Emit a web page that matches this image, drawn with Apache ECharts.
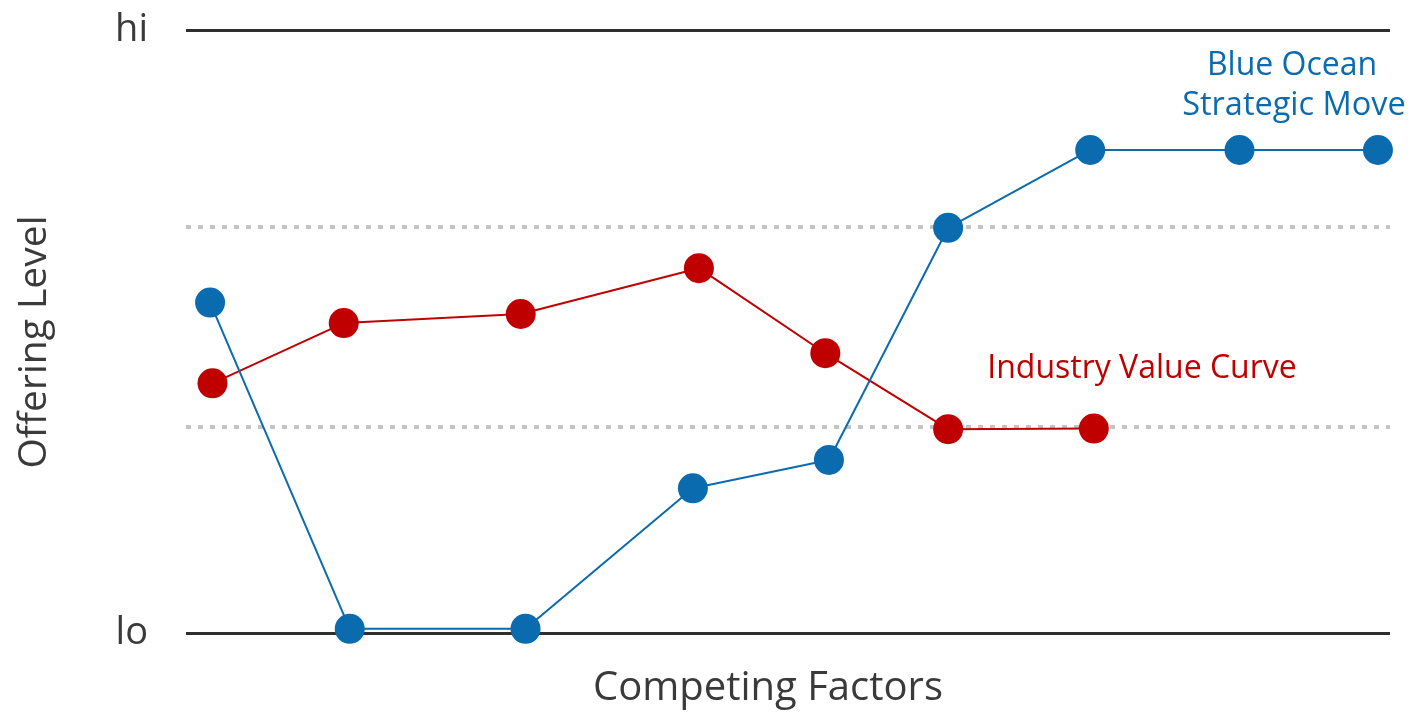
<!DOCTYPE html>
<html>
<head>
<meta charset="utf-8">
<script src="https://cdn.jsdelivr.net/npm/echarts@6/dist/echarts.min.js"></script>
<style>
html,body{margin:0;padding:0;background:#fff;}
#chart{width:1415px;height:712px;}
</style>
</head>
<body>
<div id="chart"></div>
<script>
// Factor positions along the x axis (0-100) and offering levels (0 = lo, 100 = hi)
var blueX = [2.0, 13.6, 28.2, 42.1, 53.4, 63.3, 75.1, 87.5, 99.0];
var blueY = [54.8, 0.7, 0.7, 24.0, 28.7, 67.2, 80.1, 80.1, 80.1];
var redX = [2.2, 13.1, 27.8, 42.6, 53.1, 63.3, 75.4];
var redY = [41.4, 51.4, 52.9, 60.5, 46.4, 33.8, 33.9];
var referenceLevels = [34.2, 67.3];
var boundLevels = [0, 100];
var tickLabels = {0: 'lo', 100: 'hi'};
var blueNameLines = ['Blue Ocean', 'Strategic Move'];
var redName = 'Industry Value Curve';
var xTitle = 'Competing Factors';
var yTitle = 'Offering Level';

var FONT = '"Open Sans"';
var BLUE = '#0B6BAF';
var RED = '#C00000';
var TEXT = '#3a3a3a';

function pairs(xs, ys) { return xs.map(function (x, i) { return [x, ys[i]]; }); }

var chart = echarts.init(document.getElementById('chart'));
chart.setOption({
  animation: false,
  backgroundColor: '#fff',
  grid: {left: 186, right: 25, top: 30, bottom: 79, containLabel: false, outerBoundsMode: 'none'},
  xAxis: {
    type: 'value', min: 0, max: 100,
    axisLine: {show: false}, axisTick: {show: false}, axisLabel: {show: false}, splitLine: {show: false}
  },
  yAxis: {
    type: 'value', min: 0, max: 100, interval: 100,
    axisLine: {show: false}, axisTick: {show: false}, splitLine: {show: false},
    axisLabel: {
      margin: 38, fontFamily: FONT, fontSize: 38, color: TEXT,
      formatter: function (v) { return tickLabels[v] || ''; }
    }
  },
  graphic: [
    {type: 'text', x: 35, y: 342, rotation: Math.PI / 2, style: {text: yTitle, x: 0, y: 0, textAlign: 'center', textVerticalAlign: 'middle', font: '39px ' + FONT, fill: TEXT}},
    {type: 'text', style: {text: xTitle, x: 768, y: 689, textAlign: 'center', textVerticalAlign: 'middle', font: '40px ' + FONT, fill: TEXT}},
    {type: 'text', style: {text: blueNameLines[0], x: 1292, y: 66, textAlign: 'center', textVerticalAlign: 'middle', font: '32px ' + FONT, fill: BLUE}},
    {type: 'text', style: {text: blueNameLines[1], x: 1294, y: 106, textAlign: 'center', textVerticalAlign: 'middle', font: '32.5px ' + FONT, fill: BLUE}},
    {type: 'text', style: {text: redName, x: 1142, y: 369, textAlign: 'center', textVerticalAlign: 'middle', font: '32px ' + FONT, fill: RED}}
  ],
  series: [
    {
      type: 'line', name: 'guides', data: [], z: 1, silent: true,
      markLine: {
        z: 1, silent: true, symbol: 'none', label: {show: false}, animation: false,
        data: referenceLevels.map(function (v) {
          return {yAxis: v, lineStyle: {color: '#c4c4c4', width: 4, type: [5, 7]}};
        }).concat(boundLevels.map(function (v) {
          return {yAxis: v, lineStyle: {color: '#2e2e2e', width: 3, type: 'solid'}};
        }))
      }
    },
    {
      type: 'line', name: redName, data: pairs(redX, redY), z: 3,
      symbol: 'circle', symbolSize: 30, showSymbol: true,
      lineStyle: {color: RED, width: 2}, itemStyle: {color: RED}
    },
    {
      type: 'line', name: 'Blue Ocean Strategic Move', data: pairs(blueX, blueY), z: 4,
      symbol: 'circle', symbolSize: 30, showSymbol: true,
      lineStyle: {color: BLUE, width: 2}, itemStyle: {color: BLUE}
    }
  ]
});
</script>
</body>
</html>
